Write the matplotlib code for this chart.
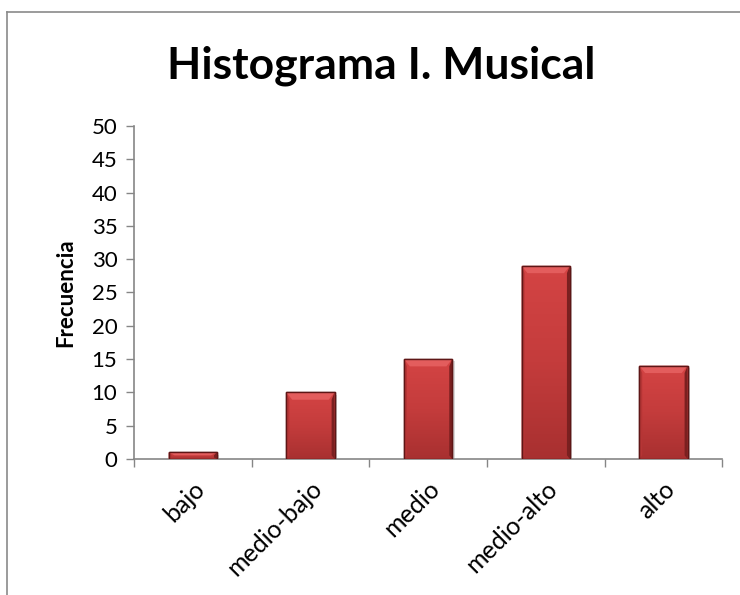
import numpy as np
import matplotlib
matplotlib.use("Agg")
import matplotlib.pyplot as plt
from matplotlib.patches import Polygon
from matplotlib.lines import Line2D

# data
categories = ["bajo", "medio-bajo", "medio", "medio-alto", "alto"]
frequencies = [1, 10, 15, 29, 14]
y_ticks = [0, 5, 10, 15, 20, 25, 30, 35, 40, 45, 50]

title = "Histograma I. Musical"
y_label = "Frecuencia"

plt.rcParams["font.family"] = ["Lato", "DejaVu Sans"]

fig = plt.figure(figsize=(7.4, 5.95), dpi=100)
ax = fig.add_axes([0.181, 0.2286, 0.795, 0.5597])

# chart frame (only left and top edges show in the reference)
fig.add_artist(Line2D([0.009, 0.009], [0.0, 0.979], color="#8a8a8a", lw=1.2,
                      transform=fig.transFigure))
fig.add_artist(Line2D([0.009, 1.0], [0.979, 0.979], color="#8a8a8a", lw=1.2,
                      transform=fig.transFigure))

x = np.arange(len(categories))
width = 0.41

# soft shadow
ax.bar(x + 0.02, frequencies, width, bottom=-0.35, color="#d9d9d9", zorder=1,
       linewidth=0)

bars = ax.bar(x, frequencies, width, color="#c23b3b", edgecolor="#5e1616",
              linewidth=1.0, zorder=2)

# vertical gradient inside each bar
grad = np.linspace(0, 1, 256).reshape(-1, 1)
cmap = matplotlib.colors.LinearSegmentedColormap.from_list(
    "barfill", ["#a83030", "#c43c3c", "#d44444"])
for b in bars:
    x0, y0 = b.get_x(), b.get_y()
    w, h = b.get_width(), b.get_height()
    im = ax.imshow(grad, cmap=cmap, aspect="auto", origin="lower",
                   extent=[x0, x0 + w, y0, y0 + h], zorder=3)
    im.set_clip_path(b)
    # top bevel
    bev = min(1.1, h * 0.45)
    dx = 0.05
    top = Polygon([[x0, y0 + h], [x0 + w, y0 + h], [x0 + w - dx, y0 + h - bev],
                   [x0 + dx, y0 + h - bev]], closed=True, facecolor="#e35d5d",
                  edgecolor="none", zorder=4)
    ax.add_patch(top)
    # side shading
    left = Polygon([[x0, y0], [x0, y0 + h], [x0 + dx * 0.5, y0 + h - bev],
                    [x0 + dx * 0.5, y0 + bev * 0.5]], closed=True,
                   facecolor="#b53535", edgecolor="none", zorder=4)
    ax.add_patch(left)
    right = Polygon([[x0 + w, y0], [x0 + w, y0 + h], [x0 + w - dx * 0.5, y0 + h - bev],
                     [x0 + w - dx * 0.5, y0 + bev * 0.5]], closed=True,
                    facecolor="#7a2020", edgecolor="none", zorder=4)
    ax.add_patch(right)
    # redraw outline on top
    ax.add_patch(plt.Rectangle((x0, y0), w, h, fill=False, edgecolor="#5e1616",
                               linewidth=1.0, zorder=5))

ax.set_xlim(-0.5, len(categories) - 0.5)
ax.set_ylim(0, 50)
ax.set_yticks(y_ticks)
ax.set_yticklabels([str(v) for v in y_ticks], fontsize=16)

ax.set_xticks(np.arange(len(categories) + 1) - 0.5)
ax.set_xticklabels([])
ax.set_xticks(x, minor=True)
ax.set_xticklabels(categories, minor=True, rotation=45, ha="right",
                   rotation_mode="anchor", fontsize=18)
ax.tick_params(axis="x", which="minor", length=0, pad=13)
ax.tick_params(axis="x", which="major", length=6, color="#868686", width=1)
ax.tick_params(axis="y", length=6, color="#868686", width=1, pad=6)

for s in ["top", "right"]:
    ax.spines[s].set_visible(False)
for s in ["left", "bottom"]:
    ax.spines[s].set_color("#868686")
    ax.spines[s].set_linewidth(1.2)

ax.set_ylabel(y_label, fontsize=16, fontweight="bold", labelpad=11)
fig.text(0.515, 0.89, title, ha="center", va="center", fontsize=32,
         fontweight="bold")

fig.savefig("out.png", dpi=100)
